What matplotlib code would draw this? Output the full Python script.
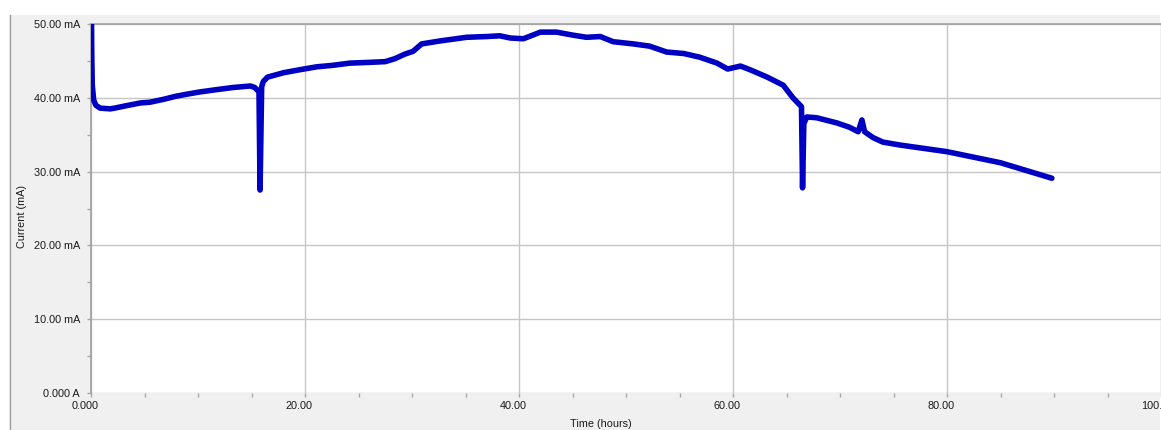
import matplotlib
matplotlib.use("Agg")
import matplotlib.pyplot as plt
import matplotlib.transforms as mtransforms
from matplotlib.patches import Rectangle
from matplotlib.ticker import FixedLocator, MultipleLocator

# ---- data ----
hours = [0.05, 0.07, 0.12, 0.25, 0.45, 0.85, 1.8, 2.2, 3.2, 4.6, 5.5, 6.8, 7.9,
         9.0, 10.2, 11.7, 13.3, 14.9, 15.3, 15.7, 15.8, 15.95, 16.1, 16.5, 18.0,
         19.5, 21.1, 22.6, 24.2, 26.0, 27.5, 28.4, 29.3, 30.1, 30.9, 32.6, 35.1,
         37.0, 38.2, 39.2, 40.4, 41.3, 42.0, 43.5, 45.0, 46.3, 47.6, 48.8, 50.7,
         52.2, 53.8, 55.4, 56.9, 58.5, 59.5, 60.7, 61.6, 63.2, 64.7, 65.6, 66.4,
         66.5, 66.62, 66.9, 67.8, 69.7, 70.9, 71.7, 72.05, 72.3, 73.1, 74.0,
         75.6, 80.0, 85.0, 89.8]
current_mA = [50.0, 46.0, 41.7, 39.7, 39.0, 38.6, 38.5, 38.6, 38.9, 39.3, 39.4,
              39.8, 40.2, 40.5, 40.8, 41.1, 41.4, 41.6, 41.4, 40.8, 27.5, 41.5,
              42.2, 42.8, 43.4, 43.8, 44.2, 44.4, 44.7, 44.8, 44.9, 45.3, 45.9,
              46.3, 47.3, 47.7, 48.2, 48.3, 48.4, 48.1, 48.0, 48.5, 48.9, 48.9,
              48.5, 48.2, 48.3, 47.6, 47.3, 47.0, 46.2, 46.0, 45.5, 44.7, 43.9,
              44.3, 43.8, 42.8, 41.7, 40.0, 38.8, 27.8, 36.5, 37.4, 37.3, 36.6,
              36.0, 35.4, 37.0, 35.4, 34.6, 34.0, 33.6, 32.7, 31.2, 29.1]

x_ticks = [0, 20, 40, 60, 80, 100]
x_tick_labels = ["0.000", "20.00", "40.00", "60.00", "80.00", "100.0"]
y_ticks = [0, 10, 20, 30, 40, 50]
y_tick_labels = ["0.000 A", "10.00 mA", "20.00 mA", "30.00 mA", "40.00 mA", "50.00 mA"]

W, H = 1161, 430
fig = plt.figure(figsize=(W / 100, H / 100), dpi=100)
fig.patch.set_facecolor("white")
plt.rcParams["font.family"] = ["Liberation Sans", "DejaVu Sans"]

# gray panel
panel = Rectangle((9 / W, 0), (1160 - 9) / W, (H - 15) / H, transform=fig.transFigure,
                  facecolor="#f0f0f0", edgecolor="none", zorder=-10)
fig.patches.append(panel)
fig.add_artist(plt.Line2D([9.5 / W, 9.5 / W], [0, (H - 15) / H], transform=fig.transFigure,
                          color="#a0a0a0", lw=1.0))

ax = fig.add_axes([91 / W, (H - 393) / H, (1161 - 91) / W, (393 - 24) / H])
ax.set_facecolor("white")
ax.plot(hours, current_mA, color="#0000c4", lw=4.0, solid_joinstyle="round",
        solid_capstyle="round", zorder=3)

ax.set_xlim(0, 100)
ax.set_ylim(0, 50)
ax.xaxis.set_major_locator(FixedLocator(x_ticks))
ax.set_xticklabels(x_tick_labels)
ax.xaxis.set_minor_locator(MultipleLocator(5))
ax.yaxis.set_major_locator(FixedLocator(y_ticks))
ax.set_yticklabels(y_tick_labels)
ax.yaxis.set_minor_locator(MultipleLocator(5))

ax.grid(True, which="major", color="#c6c6c6", lw=1.0, zorder=0)
ax.set_axisbelow(True)
ax.tick_params(which="both", direction="out", length=3, width=1, color="#a8a8a8",
               labelsize=7.8, labelcolor="#1a1a1a")
ax.tick_params(axis="y", pad=5)
ax.tick_params(axis="x", pad=3)

for s in ["top", "left"]:
    ax.spines[s].set_color("#a0a0a0")
    ax.spines[s].set_linewidth(1.2)
ax.spines["bottom"].set_visible(False)
ax.spines["right"].set_color("#e0e0e0")
ax.spines["right"].set_linewidth(0.8)

offset = mtransforms.ScaledTranslation(-6 / 100, 0, fig.dpi_scale_trans)
for lbl in ax.get_xticklabels():
    lbl.set_transform(lbl.get_transform() + offset)

fig.text(22 / W, 1 - 216 / H, "Current (mA)", rotation=90, ha="center", va="center",
         fontsize=7.8, color="#1a1a1a")
fig.text(601 / W, 1 - 424 / H, "Time (hours)", ha="center", va="center",
         fontsize=7.8, color="#1a1a1a")

fig.savefig("out.png", dpi=100, facecolor=fig.get_facecolor())
